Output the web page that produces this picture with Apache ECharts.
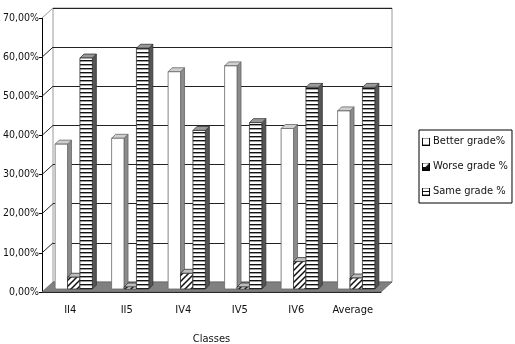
<!DOCTYPE html>
<html>
<head>
<meta charset="utf-8">
<script src="https://cdn.jsdelivr.net/npm/echarts@6/dist/echarts.min.js"></script>
<style>
  html, body { margin: 0; padding: 0; background: #fff; }
  #chart { width: 515px; height: 344px; }
</style>
</head>
<body>
<div id="chart"></div>
<script>
// data
var classes = ['II4', 'II5', 'IV4', 'IV5', 'IV6', 'Average'];
var betterGrade = [37, 38.5, 55.5, 57, 41, 45.5];
var worseGrade = [3, 0.5, 4, 0.5, 7, 2.8];
var sameGrade = [59, 61.5, 40.5, 42.5, 51.5, 51.5];
var seriesNames = ['Better grade%', 'Worse grade %', 'Same grade %'];
var yMax = 70, yStep = 10;

var FONT = '"DejaVu Sans Condensed", "Liberation Sans", sans-serif';
var FS = 11;
var WALL_DX = 11, WALL_DY = -10;   // depth of the back wall
var BAR_D = 4;                      // depth of each column

function tile(w, h, draw) {
    var c = document.createElement('canvas');
    c.width = w; c.height = h;
    var ctx = c.getContext('2d');
    ctx.fillStyle = '#fff';
    ctx.fillRect(0, 0, w, h);
    draw(ctx, w, h);
    return c;
}
var stripes = tile(8, 4, function (ctx, w) {
    ctx.fillStyle = '#111';
    ctx.fillRect(0, 0, w, 1.4);
});
var hatch = tile(6, 6, function (ctx) {
    ctx.strokeStyle = '#111';
    ctx.lineWidth = 1.5;
    ctx.beginPath();
    ctx.moveTo(-1, 7); ctx.lineTo(7, -1);
    ctx.moveTo(-4, 4); ctx.lineTo(4, -4);
    ctx.moveTo(2, 10); ctx.lineTo(10, 2);
    ctx.stroke();
});

function icon(draw) {
    return 'image://' + tile(9, 9, function (ctx) {
        draw(ctx);
        ctx.strokeStyle = '#000';
        ctx.lineWidth = 1;
        ctx.strokeRect(0.5, 0.5, 8, 8);
    }).toDataURL();
}
var icons = [
    icon(function () {}),
    icon(function (ctx) {
        ctx.fillStyle = '#111';
        ctx.beginPath();
        ctx.moveTo(1, 8); ctx.lineTo(8, 1); ctx.lineTo(8, 8); ctx.closePath();
        ctx.fill();
        ctx.fillRect(1, 5, 4, 3);
    }),
    icon(function (ctx) {
        ctx.fillStyle = '#111';
        ctx.fillRect(1, 4, 7, 1);
    })
];

var looks = [
    { off: -15, fill: '#fff', side: '#8c8c8c', top: '#cfcfcf', stroke: '#666' },
    { off: -2.7, fill: { image: hatch, repeat: 'repeat' }, side: '#7a7a7a', top: '#bdbdbd', stroke: '#333' },
    { off: 9.6, fill: { image: stripes, repeat: 'repeat' }, side: '#555', top: '#999', stroke: '#333' }
];

function barRenderer(k) {
    var look = looks[k];
    return function (params, api) {
        var cat = api.value(0), v = api.value(1);
        var band = api.size([1, 0])[0];
        var s = band / 56;
        var c0 = api.coord([cat, 0]);
        var c1 = api.coord([cat, v]);
        var x0 = c0[0] + look.off * s;
        var w = 12.3 * s;
        var yb = c0[1] - 3, yt = c1[1] - 3;
        var d = BAR_D;
        return {
            type: 'group',
            children: [
                { type: 'polygon', shape: { points: [[x0 + w, yb], [x0 + w + d, yb - d], [x0 + w + d, yt - d], [x0 + w, yt]] },
                  style: { fill: look.side, stroke: look.stroke, lineWidth: 0.8 } },
                { type: 'polygon', shape: { points: [[x0, yt], [x0 + d, yt - d], [x0 + w + d, yt - d], [x0 + w, yt]] },
                  style: { fill: look.top, stroke: look.stroke, lineWidth: 0.8 } },
                { type: 'rect', shape: { x: x0, y: yt, width: w, height: yb - yt },
                  style: { fill: look.fill, stroke: look.stroke, lineWidth: 0.8 } }
            ]
        };
    };
}

// floor and left side wall, built from the front axes
function wallRenderer(params, api) {
    var band = api.size([1, 0])[0];
    var left = api.coord([0, 0])[0] - band / 2;
    var right = api.coord([classes.length - 1, 0])[0] + band / 2;
    var y0 = api.coord([0, 0])[1];
    var kids = [{
        type: 'polygon',
        shape: { points: [[left, y0], [right, y0], [right + WALL_DX, y0 + WALL_DY], [left + WALL_DX, y0 + WALL_DY]] },
        style: { fill: '#808080', stroke: '#666', lineWidth: 0.8 }
    }];
    for (var v = yStep; v <= yMax; v += yStep) {
        var y = api.coord([0, v])[1];
        kids.push({
            type: 'line',
            shape: { x1: left, y1: y, x2: left + WALL_DX, y2: y + WALL_DY },
            style: { stroke: v === yMax ? '#999' : '#222', lineWidth: 1 }
        });
    }
    return { type: 'group', children: kids };
}

function pairs(arr) {
    return arr.map(function (v, i) { return [i, v]; });
}

var myChart = echarts.init(document.getElementById('chart'));
var option = {
    animation: false,
    backgroundColor: '#fff',
    textStyle: { fontFamily: FONT },
    legend: {
        orient: 'vertical',
        left: 419,
        top: 130,
        padding: [6, 4, 6, 3],
        itemGap: 14,
        itemWidth: 8,
        itemHeight: 8,
        borderColor: '#000',
        borderWidth: 1,
        textStyle: { fontSize: FS, color: '#111', fontFamily: FONT, padding: [0, 0, 0, -2] },
        data: seriesNames.map(function (n, i) { return { name: n, icon: icons[i] }; })
    },
    grid: [
        { left: 42, right: 134, top: 18, bottom: 52, outerBoundsMode: 'none', containLabel: false },
        { left: 53, right: 123, top: 8, bottom: 62, outerBoundsMode: 'none', containLabel: false,
          show: true, borderColor: '#9a9a9a', borderWidth: 1, backgroundColor: '#fff' }
    ],
    xAxis: [
        {
            type: 'category',
            data: classes,
            gridIndex: 0,
            name: 'Classes',
            nameLocation: 'middle',
            nameGap: 42,
            nameTextStyle: { fontSize: FS, color: '#111', fontFamily: FONT },
            axisLine: { lineStyle: { color: '#000', width: 1 } },
            axisTick: { length: 5, lineStyle: { color: '#000' } },
            axisLabel: { fontSize: FS, color: '#111', margin: 13, fontFamily: FONT, interval: 0 }
        },
        { type: 'category', data: classes, gridIndex: 1, show: false }
    ],
    yAxis: [
        {
            type: 'value',
            gridIndex: 0,
            min: 0, max: yMax, interval: yStep,
            axisLine: { show: true, lineStyle: { color: '#000', width: 1 } },
            axisTick: { show: true, length: 3, lineStyle: { color: '#000' } },
            splitLine: { show: false },
            axisLabel: {
                fontSize: 10.5, color: '#111', margin: 3, fontFamily: FONT,
                formatter: function (v) { return v.toFixed(2).replace('.', ',') + '%'; }
            }
        },
        {
            type: 'value',
            gridIndex: 1,
            min: 0, max: yMax, interval: yStep,
            axisLine: { show: false },
            axisTick: { show: false },
            axisLabel: { show: false },
            splitLine: { show: true, lineStyle: { color: '#222', width: 1 } }
        }
    ],
    series: [
        {
            type: 'custom',
            name: 'walls',
            xAxisIndex: 0, yAxisIndex: 0,
            z: 1,
            silent: true,
            renderItem: wallRenderer,
            data: [[0, 0]]
        },
        { type: 'custom', name: seriesNames[0], z: 3, renderItem: barRenderer(0), data: pairs(betterGrade), itemStyle: { color: '#fff' } },
        { type: 'custom', name: seriesNames[1], z: 3, renderItem: barRenderer(1), data: pairs(worseGrade), itemStyle: { color: '#333' } },
        { type: 'custom', name: seriesNames[2], z: 3, renderItem: barRenderer(2), data: pairs(sameGrade), itemStyle: { color: '#777' } }
    ]
};
myChart.setOption(option);
</script>
</body>
</html>
